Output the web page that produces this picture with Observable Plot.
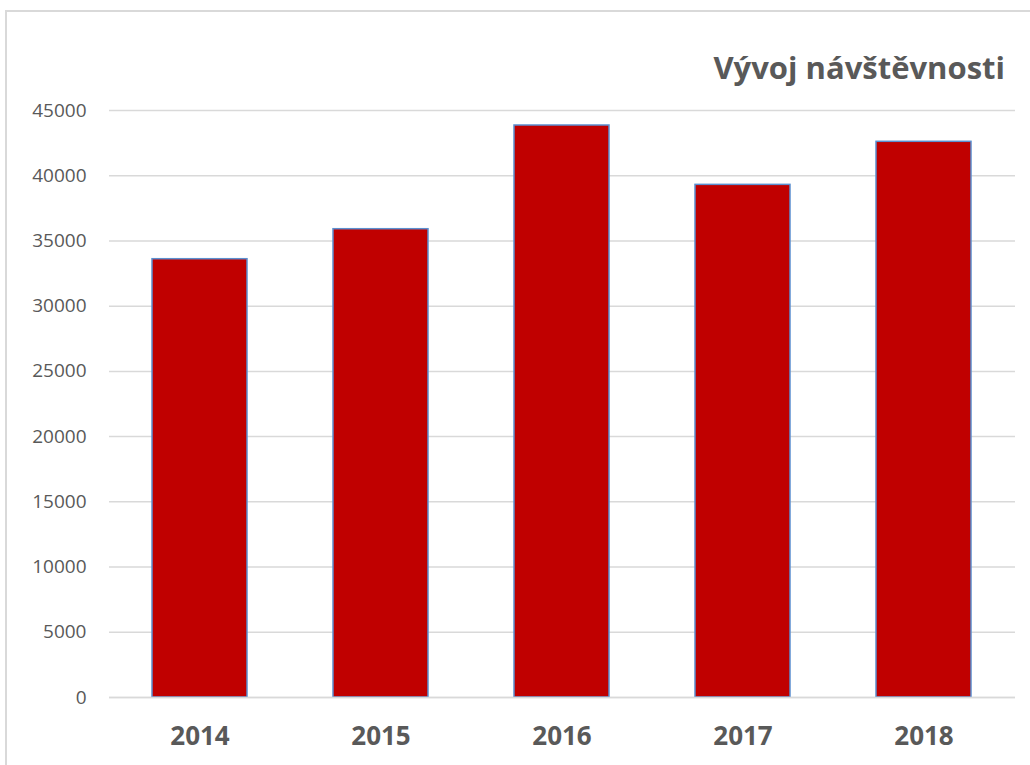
<!DOCTYPE html>
<html><head><meta charset="utf-8">
<script src="https://cdn.jsdelivr.net/npm/d3@7"></script>
<script src="https://cdn.jsdelivr.net/npm/@observablehq/plot@0.6"></script>
<style>
body{margin:0;background:#fff;font-family:"Open Sans",sans-serif;}
#wrap{position:relative;width:1030px;height:765px;overflow:hidden;}
#frame{position:absolute;left:5px;top:10px;width:1100px;height:900px;border:2px solid #d9d9d9;box-sizing:border-box;}
#title{position:absolute;right:25px;top:46px;font-size:31px;font-weight:bold;color:#595959;}
#chart{position:absolute;left:0;top:0;}
</style></head>
<body><div id="wrap"><div id="frame"></div><div id="chart"></div><div id="title">Vývoj návštěvnosti</div></div>
<script>
const years = ["2014","2015","2016","2017","2018"];
const visitors = [33600, 35900, 43850, 39300, 42600];
const yTicks = [0,5000,10000,15000,20000,25000,30000,35000,40000,45000];
const data = years.map((y,i)=>({year:y, value:visitors[i]}));
const chart = Plot.plot({
  width:1030, height:765,
  marginLeft:109, marginRight:15, marginTop:110, marginBottom:68,
  style:{background:"transparent", fontFamily:"'Open Sans',sans-serif"},
  x:{domain:years, paddingInner:0.475, paddingOuter:0.2375, label:null},
  y:{domain:[0,45000], ticks:yTicks, label:null},
  marks:[
    Plot.gridY(yTicks,{stroke:"#d9d9d9", strokeOpacity:1, strokeWidth:1.5}),
    Plot.axisY({ticks:yTicks, tickSize:0, tickPadding:23, fontSize:19, fill:"#595959", tickFormat:d=>String(d), label:null}),
    Plot.axisX({tickSize:0, tickPadding:29, fontSize:26, fontWeight:"bold", fill:"#595959", label:null}),
    Plot.barY(data,{x:"year", y:"value", fill:"#C00000", stroke:"#5B8FD0", strokeWidth:1.5}),
    Plot.ruleY([0],{stroke:"#d9d9d9", strokeWidth:1.5})
  ]
});
document.getElementById("chart").appendChild(chart);
</script></body></html>
